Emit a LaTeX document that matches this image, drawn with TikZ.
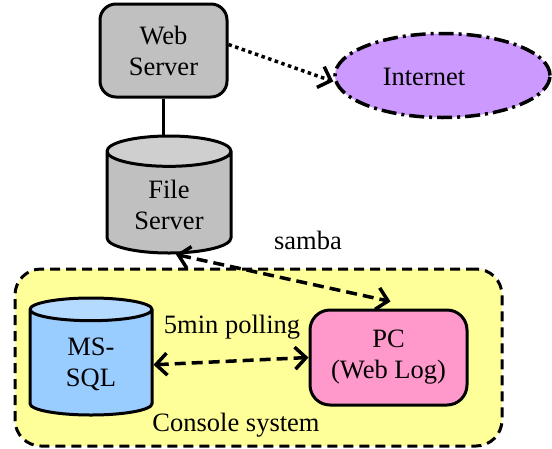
\documentclass[tikz,border=0pt]{standalone}
\usepackage{fontspec}
\setmainfont{Liberation Serif}
\usetikzlibrary{shapes.geometric, arrows.meta, positioning}

\definecolor{srvgray}{HTML}{C0C0C0}
\definecolor{srvtop}{HTML}{CFCFCF}
\definecolor{sqlblue}{HTML}{99CCFF}
\definecolor{sqltop}{HTML}{B5DAFF}
\definecolor{netviolet}{HTML}{CC99FF}
\definecolor{pcpink}{HTML}{FF99CC}
\definecolor{consyellow}{HTML}{FFFF99}

\begin{document}
\begin{tikzpicture}[x=1pt, y=-1pt,
    every node/.style={font=\fontsize{26.5}{31}\selectfont},
    box/.style={draw, line width=3pt, rounded corners=16pt, align=center},
    db/.style={draw, line width=3pt, cylinder, shape border rotate=90, anchor=shape center,
        aspect=0.4, cylinder uses custom fill, align=center},
    tip/.style={Straight Barb[length=11pt,width=22pt]},
    link/.style={line width=3.5pt, {Straight Barb[length=11pt,width=22pt]}-{Straight Barb[length=11pt,width=22pt]},
        dash pattern=on 11pt off 6pt}]
    \useasboundingbox (0,0) rectangle (552,448);

    % console area in the back
    \node[draw, fill=consyellow, line width=3pt, dash pattern=on 10pt off 6pt,
        rounded corners=26pt, minimum width=487pt, minimum height=177pt] (console) at (258.5,357.5) {};
    \node (consname) at (236,425) {Console system};

    % servers
    \node[box, fill=srvgray, minimum width=127pt, minimum height=93pt] (websrv) at (163.5,50.5) {Web\\Server};
    \node[db, cylinder body fill=srvgray, cylinder end fill=srvtop,
        minimum width=124pt, minimum height=117pt] (filesrv) at (169,194.5) {File\\Server};
    \draw[line width=3pt] (websrv.south) -- (websrv.south |- filesrv.north);

    % internet
    \node[ellipse, draw, fill=netviolet, line width=3.5pt, dash pattern=on 15pt off 5pt on 3pt off 5pt,
        minimum width=215pt, minimum height=84pt] (inet) at (442.5,75.5) {};
    \node (inetname) at (424,77) {Internet};
    \draw[line width=3.5pt, dash pattern=on 3.5pt off 3.5pt, -{Straight Barb[length=11pt,width=22pt]}]
        ([yshift=6pt]websrv.east) -- ([yshift=-6pt]inet.west);

    % console side
    \node[db, cylinder body fill=sqlblue, cylinder end fill=sqltop,
        minimum width=122pt, minimum height=117pt] (mssql) at (91,356.5) {MS-\\SQL};
    \node[box, fill=pcpink, rounded corners=20pt, minimum width=157pt, minimum height=95pt] (pc) at (388.5,357.5) {PC\\(Web Log)};

    \draw[link] ([xshift=7pt]filesrv.south) -- ([xshift=2pt,yshift=7pt]pc.north);
    \node (samba) at (308,240) {samba};
    \draw[link] (mssql.east) -- (pc.west);
    \node (polling) at (232,327) {5min polling};
\end{tikzpicture}
\end{document}
